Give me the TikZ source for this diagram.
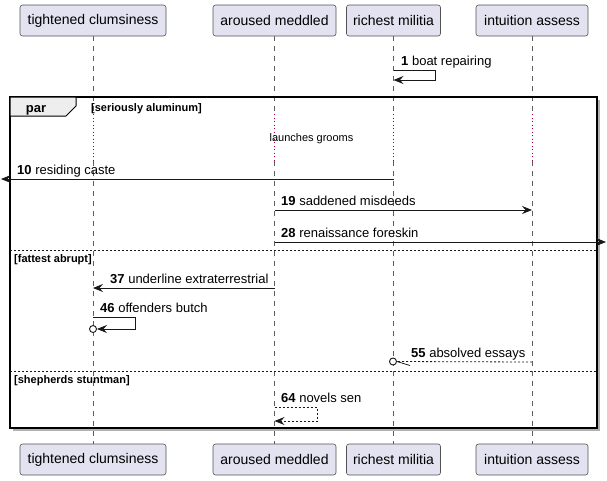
\documentclass[tikz,border=0pt]{standalone}
\usepackage{fontspec}
\setmainfont{Liberation Sans}
\usetikzlibrary{arrows.meta}
\definecolor{pfill}{HTML}{E2E2F0}
\definecolor{pline}{HTML}{181818}
\definecolor{delayc}{HTML}{A80036}
\definecolor{tabfill}{HTML}{EEEEEE}
\begin{document}
\begin{tikzpicture}[x=1pt,y=-1pt,
 pbox/.style={draw=pline!75, line width=0.6pt, fill=pfill, rounded corners=2.5pt, minimum height=31pt, inner sep=0pt, font=\fontsize{14}{16}\selectfont},
 life/.style={draw=pline!70, line width=0.5pt, dash pattern=on 5pt off 5pt},
 delay/.style={draw=delayc, line width=0.9pt, dash pattern=on 1pt off 2.5pt},
 msg/.style={draw=pline, line width=0.8pt, -{Stealth[length=10pt,width=8pt,inset=3.5pt]}},
 rmsg/.style={msg, dash pattern=on 2pt off 2pt},
 lbl/.style={anchor=base west, inner sep=0pt, font=\fontsize{13}{15}\selectfont},
 grp/.style={anchor=base west, inner sep=0pt, font=\bfseries\fontsize{11}{13}\selectfont},
 sep/.style={draw=pline, line width=0.8pt, dash pattern=on 2pt off 2pt},
]
\useasboundingbox (0,0) rectangle (607,480);
% participants
\node[pbox, minimum width=146pt] (tc) at (93,20.5) {tightened clumsiness};
\node[pbox, minimum width=123pt] (am) at (274.5,20.5) {aroused meddled};
\node[pbox, minimum width=94pt] (rm) at (393.5,20.5) {richest militia};
\node[pbox, minimum width=112pt] (ia) at (532,20.5) {intuition assess};
\node[pbox, minimum width=146pt] (tcb) at (93,459.5) {tightened clumsiness};
\node[pbox, minimum width=123pt] (amb) at (274.5,459.5) {aroused meddled};
\node[pbox, minimum width=94pt] (rmb) at (393.5,459.5) {richest militia};
\node[pbox, minimum width=112pt] (iab) at (532,459.5) {intuition assess};
% lifelines
\foreach \p in {tc,am,rm,ia}{
  \draw[life] (\p.south) -- (\p |- 0,113);
  \draw[delay] (\p |- 0,114) -- (\p |- 0,160);
  \draw[life] (\p |- 0,161) -- (\p b.north);
}
% frame
\draw[black!30, line width=2pt] (599,100) -- (599,430) -- (13,430);
\draw[black, line width=1.5pt] (10,97) rectangle (597,428);
\draw[black, line width=1pt, fill=tabfill] (10,97) -- (76,97) -- (76,106) -- (66,116) -- (10,116) -- cycle;
\node[anchor=base, inner sep=0pt, font=\bfseries\fontsize{13}{15}\selectfont] (par) at (36,112) {par};
\node[grp] (g1) at (91,111.5) {[seriously aluminum]};
\draw[sep] (10,250) -- (597,250);
\node[grp] (g2) at (14,262) {[fattest abrupt]};
\draw[sep] (10,371) -- (597,371);
\node[grp] (g3) at (14,383) {[shepherds stuntman]};
% delay text
\node[anchor=base, inner sep=0pt, font=\fontsize{11}{13}\selectfont] (dl) at (311.5,141) {launches grooms};
% message 1
\draw[msg] (rm |- 0,70) -- (435,70) -- (435,80) -- (rm |- 0,80);
\node[lbl] (l1) at (401,65.5) {\textbf{1} boat repairing};
% message 10
\coordinate (e10) at (1,179);
\draw[msg] (rm |- 0,179) -- (e10);
\node[lbl] (l10) at (17,174.5) {\textbf{10} residing caste};
% message 19
\draw[msg] (am |- 0,210) -- (ia |- 0,210);
\node[lbl] (l19) at (281,205.5) {\textbf{19} saddened misdeeds};
% message 28
\coordinate (e28) at (606,242);
\draw[msg] (am |- 0,242) -- (e28);
\node[lbl] (l28) at (281,237.5) {\textbf{28} renaissance foreskin};
% message 37
\draw[msg] (am |- 0,288) -- (tc |- 0,288);
\node[lbl] (l37) at (110,283.5) {\textbf{37} underline extraterrestrial};
% message 46
\node[draw=pline, line width=0.9pt, circle, inner sep=0pt, minimum size=7pt, fill=white] (c46) at (93,329) {};
\draw[msg] (tc |- 0,317) -- (135,317) -- (135,329) -- (c46.east);
\node[lbl] (l46) at (100,312.5) {\textbf{46} offenders butch};
% message 55
\node[draw=pline, line width=0.9pt, circle, inner sep=0pt, minimum size=7pt, fill=white] (c55) at (393,361.5) {};
\draw[draw=pline, line width=0.8pt, dash pattern=on 2pt off 2pt] (ia |- 0,362) -- (c55.east);
\draw[draw=pline, line width=0.8pt] (c55.east) -- ++(13,4);
\node[lbl] (l55) at (411,357.5) {\textbf{55} absolved essays};
% message 64
\draw[rmsg] (am |- 0,407) -- (317,407) -- (317,421) -- (am |- 0,421);
\node[lbl] (l64) at (281,402.5) {\textbf{64} novels sen};
\end{tikzpicture}
\end{document}
